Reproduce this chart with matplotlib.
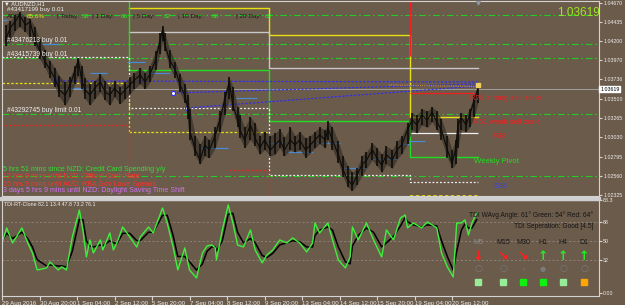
import matplotlib
matplotlib.use('Agg')
import matplotlib.pyplot as plt
from matplotlib.patches import Rectangle

plt.rcParams['font.family'] = ['Liberation Sans', 'DejaVu Sans']

W, H = 625, 305
BG = '#6b5b4b'
FRAME = '#d4d4d4'

# AUDNZD H1, x = bar number from the first bar on the chart
price_bars = [3, 7, 11, 15, 20, 24, 28, 32, 37, 41, 45, 49, 54, 58, 62, 65, 68, 71, 75, 79,
              84, 88, 92, 96, 101, 105, 109, 113, 118, 122, 126, 131, 135, 137, 139, 143, 148, 152, 156, 159,
              160, 165, 169, 173, 177, 182, 186, 190, 194, 197, 201, 203, 207, 212, 216, 220, 224, 229, 233, 237,
              241, 246, 250, 254, 259, 263, 267, 271, 276, 278, 282, 287, 291, 295, 299, 303, 307, 311, 316, 320,
              324, 328, 333, 337, 341, 346, 350, 354, 358, 363, 367, 371, 375, 380, 384, 387, 389, 392, 396, 399,
              403, 406]
price_close = [1.04218, 1.04365, 1.04438, 1.04523, 1.04401, 1.04438, 1.04218, 1.04096, 1.03949, 1.03852,
               1.03754, 1.03607, 1.03546, 1.03668, 1.03827, 1.03974, 1.03730, 1.03607, 1.03546, 1.03632,
               1.03705, 1.03583, 1.03546, 1.03632, 1.03546, 1.03607, 1.03668, 1.03730, 1.03791, 1.03705,
               1.03791, 1.03974, 1.04218, 1.04340, 1.04157, 1.03974, 1.03852, 1.03668, 1.03546, 1.03363,
               1.03119, 1.02875, 1.02752, 1.02936, 1.02875, 1.03058, 1.03241, 1.03485, 1.03705, 1.03424,
               1.03241, 1.03119, 1.02997, 1.03180, 1.03021, 1.02899, 1.02997, 1.02875, 1.02936, 1.02997,
               1.02875, 1.02997, 1.02936, 1.02997, 1.02875, 1.02936, 1.02997, 1.03058, 1.02997, 1.03143,
               1.02997, 1.02814, 1.02630, 1.02508, 1.02447, 1.02569, 1.02691, 1.02752, 1.02875, 1.02777,
               1.02691, 1.02814, 1.02752, 1.02875, 1.02936, 1.03119, 1.03241, 1.03180, 1.03302, 1.03241,
               1.03339, 1.03217, 1.03119, 1.02875, 1.02716, 1.02875, 1.03180, 1.03265, 1.03180, 1.03302,
               1.03485, 1.03619]
price_high = [1.04400, 1.04450, 1.04520, 1.04560, 1.04500, 1.04480, 1.04380, 1.04230, 1.04100, 1.03960,
              1.03880, 1.03780, 1.03700, 1.03760, 1.03900, 1.04000, 1.03900, 1.03750, 1.03680, 1.03720,
              1.03800, 1.03720, 1.03650, 1.03720, 1.03650, 1.03700, 1.03760, 1.03820, 1.03880, 1.03820,
              1.03900, 1.04080, 1.04300, 1.04390, 1.04300, 1.04100, 1.03950, 1.03800, 1.03680, 1.03550,
              1.03380, 1.03050, 1.02950, 1.03050, 1.03000, 1.03150, 1.03350, 1.03580, 1.03760, 1.03650,
              1.03400, 1.03300, 1.03150, 1.03280, 1.03200, 1.03050, 1.03100, 1.03050, 1.03080, 1.03130,
              1.03030, 1.03150, 1.03050, 1.03100, 1.03020, 1.03050, 1.03100, 1.03150, 1.03120, 1.03230,
              1.03150, 1.02980, 1.02800, 1.02680, 1.02600, 1.02650, 1.02800, 1.02850, 1.02960, 1.02900,
              1.02820, 1.02920, 1.02880, 1.02980, 1.03040, 1.03200, 1.03330, 1.03300, 1.03380, 1.03350,
              1.03400, 1.03350, 1.03250, 1.03050, 1.02880, 1.03000, 1.03250, 1.03330, 1.03300, 1.03380,
              1.03550, 1.03680]
price_low = [1.04150, 1.04200, 1.04330, 1.04380, 1.04320, 1.04250, 1.04150, 1.03990, 1.03870, 1.03750,
             1.03650, 1.03520, 1.03420, 1.03520, 1.03680, 1.03780, 1.03620, 1.03500, 1.03420, 1.03500,
             1.03580, 1.03480, 1.03420, 1.03520, 1.03440, 1.03500, 1.03560, 1.03620, 1.03680, 1.03620,
             1.03700, 1.03850, 1.04050, 1.04200, 1.04080, 1.03880, 1.03750, 1.03580, 1.03450, 1.03250,
             1.03000, 1.02800, 1.02700, 1.02800, 1.02780, 1.02900, 1.03100, 1.03300, 1.03500, 1.03350,
             1.03150, 1.03020, 1.02900, 1.03000, 1.02920, 1.02820, 1.02880, 1.02800, 1.02820, 1.02900,
             1.02800, 1.02880, 1.02850, 1.02880, 1.02780, 1.02840, 1.02900, 1.02950, 1.02900, 1.03000,
             1.02880, 1.02720, 1.02550, 1.02420, 1.02380, 1.02450, 1.02560, 1.02650, 1.02750, 1.02680,
             1.02600, 1.02700, 1.02650, 1.02760, 1.02830, 1.02950, 1.03120, 1.03080, 1.03180, 1.03150,
             1.03220, 1.03120, 1.03000, 1.02780, 1.02650, 1.02700, 1.02900, 1.03120, 1.03100, 1.03150,
             1.03280, 1.03450]

tdi_bars = [0, 4, 9, 17, 22, 26, 30, 38, 41, 48, 51, 55, 60, 66, 69, 72, 75, 78, 84, 86,
            92, 95, 98, 103, 109, 115, 118, 125, 129, 137, 141, 146, 150, 156, 160, 166, 171, 175, 179, 182,
            183, 188, 193, 197, 201, 206, 212, 216, 222, 226, 231, 237, 243, 248, 254, 260, 265, 267, 271, 278,
            282, 287, 293, 297, 299, 304, 311, 317, 324, 328, 334, 340, 344, 346, 351, 358, 363, 371, 375, 380,
            385, 388, 392, 395, 398, 401, 405]
tdi_green = [47.8, 62.1, 47.8, 62.1, 47.8, 38.3, 22.2, 24.1, 29.8, 22.2, 25.1, 22.2, 53.5, 79.1, 60.2, 34.5,
             50.7, 38.3, 50.7, 41.2, 57.3, 41.2, 47.8, 63.0, 53.5, 44.0, 53.5, 63.0, 57.3, 81.0, 66.8, 44.0,
             22.2, 43.1, 22.2, 14.6, 38.3, 45.0, 46.0, 43.1, 31.7, 60.2, 83.9, 66.8, 45.9, 44.0, 60.2, 41.2,
             28.9, 36.4, 41.2, 50.7, 47.8, 52.6, 47.8, 39.3, 47.8, 66.8, 57.3, 66.8, 50.7, 31.7, 24.1, 34.5,
             63.0, 50.7, 66.8, 50.7, 34.5, 60.2, 50.7, 71.6, 74.4, 62.1, 66.8, 62.1, 67.8, 62.1, 38.3, 25.1,
             15.5, 66.8, 66.8, 69.7, 55.4, 66.8, 76.3]
tdi_black = [50, 57, 52, 58, 52, 44, 32, 26, 27, 26, 26, 25, 40, 70, 70, 50, 45, 44, 46, 45,
             50, 48, 47, 57, 57, 50, 50, 58, 58, 74, 74, 55, 35, 35, 30, 22, 28, 40, 44, 44,
             40, 50, 75, 76, 58, 48, 52, 48, 36, 34, 38, 46, 48, 50, 49, 44, 44, 55, 60, 63,
             60, 44, 30, 28, 45, 55, 62, 58, 44, 48, 54, 64, 72, 68, 65, 63, 65, 64, 50, 35,
             22, 40, 60, 66, 62, 62, 70]

time_ticks = [0, 32, 64, 96, 128, 160, 192, 224, 256, 288, 320, 352, 384]
time_labels = ['29 Aug 2016', '30 Aug 20:00', '1 Sep 04:00', '2 Sep 12:00', '5 Sep 20:00',
               '7 Sep 04:00', '8 Sep 12:00', '9 Sep 20:00', '13 Sep 04:00', '14 Sep 12:00',
               '15 Sep 20:00', '19 Sep 04:00', '20 Sep 12:00']
price_ticks = [1.04670, 1.04435, 1.04200, 1.03970, 1.03736, 1.03500, 1.03265,
               1.03030, 1.02795, 1.02560, 1.02325]
tdi_ticks = [88.3, 68, 50, 32, 0]
tdi_tick_labels = ['88.3', '68', '50', '32', '0.00']

bid = 1.03619
order_levels = [1.04523, 1.04169, 1.03998, 1.03314, 1.02557]

# weekly range boxes: week start bars and the level of each line per week
week_edges = [108, 228, 348, 406]
yellow_levels = [1.04609, 1.04279, 1.03278, 1.03278]
grey_levels = [1.04316, 1.03876, 1.03876, 1.03876]
green_levels = [1.03852, 1.03229, 1.02789, 1.02789]
dotted_edges = [0, 108, 228, 348, 406]
white_dotted_levels = [1.04010, 1.03388, 1.02569, 1.02484, 1.02484]
r78 = 1.03571
r38 = 1.03082
week1_yellow = 1.03693
week1_red = 1.03180
week2_yellow = 1.03094
week2_red = 1.02630
week4_yellow = 1.02318

# trend lines (start bar, start price) -> (end bar, end price)
trend_start_bars = [46, 146, 158]
trend_start_prices = [1.03718, 1.03571, 1.03388]
trend_end_prices = [1.03705, 1.03681, 1.03656]

# short pivot segments
seg_start = [0, 32, 55, 75, 107, 124, 169, 200, 227, 244, 269, 291, 314, 340, 346]
seg_end = [4, 49, 73, 90, 122, 143, 193, 218, 241, 265, 288, 311, 337, 348, 361]
seg_price = [1.04462, 1.04169, 1.03632, 1.03815, 1.03949, 1.03815, 1.02899, 1.03510, 1.02960,
             1.02850, 1.02960, 1.02655, 1.02765, 1.02948, 1.02985]

tf_names = ['M5', 'M15', 'M30', 'H1', 'H4', 'D1']
tf_arrows = ['\u2193', '\u2198', '\u2198', '\u2191', '\u2191', '\u2191']
tf_state = ['weak', 'weak', 'strong', 'strong', 'weak', 'against']

news = ['5 hrs 51 mins since NZD: Credit Card Spending y/y',
        '12 hrs 9 mins until NZD: Official Cash Rate',
        '15 hrs 9 mins until AUD: RBA Gov Lowe Speaks',
        '3 days 5 hrs 9 mins until NZD: Daylight Saving Time Shift']
news_colors = ['#33dd33', '#ff3030', '#ff3030', '#d070f0']


fig = plt.figure(figsize=(W / 100, H / 100), dpi=100, facecolor=BG)


def box(x0, y0, x1, y1):
    return [x0 / W, 1 - y1 / H, (x1 - x0) / W, (y1 - y0) / H]


def put(x, y, s, **kw):
    kw.setdefault('va', 'center')
    kw.setdefault('ha', 'left')
    fig.text(x / W, 1 - y / H, s, **kw)


ax = fig.add_axes(box(2, 1, 599, 196), facecolor=BG)
ax2 = fig.add_axes(box(2, 200, 599, 296), facecolor=BG)
fig.patches.append(Rectangle((0, 1 - 199.5 / H), 600 / W, 3 / H, color='#cfcfcf',
                             transform=fig.transFigure, zorder=5))

# ---- price panel ----
ax.set_xlim(0, 509.4)
ax.set_ylim(1.02313, 1.04694)

for lv in order_levels:
    ax.axhline(lv, color='#22cc22', lw=0.8, ls=(0, (6, 2.5, 1.5, 2.5)), zorder=1)
ax.axhline(bid, color='#a0a0a0', lw=0.7, zorder=1)

ax.step(week_edges, yellow_levels, where='post', color='#e8e010', lw=1.0, zorder=2)
ax.step(week_edges, grey_levels, where='post', color='#c8c8c8', lw=1.0, zorder=2)
ax.step(week_edges, green_levels, where='post', color='#22dd22', lw=1.0, zorder=2)
ax.vlines(week_edges[0], green_levels[0], 1.04694, color='#22dd22', lw=1.0, zorder=2)
ax.vlines(week_edges[2], 1.04022, 1.04694, color='#ee2020', lw=1.0, zorder=2)
ax.step(dotted_edges, white_dotted_levels, where='post', color='#f0f0f0', lw=0.9, ls=(0, (1.5, 1.5)), zorder=2)
ax.hlines(r78, week_edges[2], week_edges[3], color='#ee2020', lw=0.9, zorder=2)
ax.hlines(r38, week_edges[2], week_edges[3], color='#f0f0f0', lw=0.9, zorder=2)
ax.hlines(week1_yellow, 0, week_edges[0], color='#e8e010', lw=0.9, ls=(0, (2, 1.5)), zorder=2)
ax.hlines(week2_yellow, week_edges[0], week_edges[1], color='#e8e010', lw=0.9, ls=(0, (2, 1.5)), zorder=2)
ax.vlines(week_edges[0], week2_yellow, 1.03485, color='#e8e010', lw=0.9, ls=(0, (2, 1.5)), zorder=2)
ax.hlines(week4_yellow, week_edges[2], week_edges[3], color='#e8e010', lw=1.2, ls=(0, (2, 1.5)), zorder=2)
ax.hlines(week1_red, 0, week_edges[0], color='#ee2020', lw=0.9, ls=(0, (1.5, 1.5)), zorder=2)
ax.vlines(week_edges[0], 1.02716, week1_red, color='#ee2020', lw=0.9, ls=(0, (1.5, 1.5)), zorder=2)
ax.hlines(week2_red, 194, week_edges[1], color='#ee2020', lw=0.9, ls=(0, (1.5, 1.5)), zorder=2)
ax.vlines(week_edges[1], 1.02313, week2_red, color='#ee2020', lw=0.9, ls=(0, (1.5, 1.5)), zorder=2)

ax.hlines(seg_price, seg_start, seg_end, color='#4a8ad0', lw=0.9, zorder=2)

for b0, p0, p1 in zip(trend_start_bars, trend_start_prices, trend_end_prices):
    ax.plot([b0, price_bars[-1]], [p0, p1], color='#2a2aff', lw=0.8, ls=(0, (2, 1.5)), zorder=3)
ax.plot([330, price_bars[-1]], [1.03668, 1.03650], color='#c89040', lw=0.8, ls=(0, (1, 1)), zorder=3)
ax.plot(trend_start_bars[0], trend_start_prices[0], 'o', ms=3, color='#2a2aff', zorder=4)
ax.plot(trend_start_bars[1:], trend_start_prices[1:], 'o', ms=3, mfc='white', mec='#2a2aff', mew=0.8, zorder=4)

# candles: high/low band, wicks and closes
ax.fill_between(price_bars, price_low, price_high, color='#2e2820', alpha=0.6, lw=0, zorder=4)
ax.vlines(price_bars, price_low, price_high, color='#14110d', lw=1.3, zorder=5)
ax.plot(price_bars, price_close, color='#0d0b08', lw=0.8, zorder=5)
ax.plot(price_bars[-1], price_close[-1] + 0.0005, 's', ms=2.5, color='#f0d060', zorder=6)
ax.plot(price_bars[-1], 1.04680, 'v', ms=3.5, color='#8898a8', zorder=6)

ax.yaxis.tick_right()
ax.set_yticks(price_ticks)
ax.set_yticklabels(['%.5f' % p for p in price_ticks])
ax.tick_params(axis='y', colors=FRAME, labelcolor='#eeeeee', labelsize=3.8, length=2, pad=1)
ax.set_xticks([])
for s in ax.spines.values():
    s.set_color(FRAME)
    s.set_linewidth(0.8)
ax.text(1.002, bid, '1.03619', transform=ax.get_yaxis_transform(), fontsize=3.8, color='black',
        va='center', ha='left', bbox=dict(boxstyle='square,pad=0.15', fc='white', ec='white'))

# ---- TDI panel ----
ax2.set_xlim(0, 509.4)
ax2.set_ylim(-2.5, 88.6)
for lv in [68, 50, 32]:
    ax2.axhline(lv, color='#9a9088', lw=0.5, ls=(0, (3, 3)))
ax2.plot(tdi_bars, tdi_black, color='#000000', lw=1.1)
ax2.plot(tdi_bars, tdi_green, color='#3cf03c', lw=1.0)
ax2.yaxis.tick_right()
ax2.set_yticks(tdi_ticks)
ax2.set_yticklabels(tdi_tick_labels)
ax2.tick_params(axis='y', colors=FRAME, labelcolor='#eeeeee', labelsize=3.8, length=2, pad=1)
ax2.set_xticks(time_ticks)
ax2.set_xticklabels(time_labels, ha='left')
ax2.tick_params(axis='x', colors=FRAME, labelcolor='#eeeeee', labelsize=4.4, length=3, pad=0.5)
for s in ax2.spines.values():
    s.set_color(FRAME)
    s.set_linewidth(0.8)

# ---- chart texts ----
put(4, 3.5, '\u25bc AUDNZD,H1', color='#f0f0f0', fontsize=4.2)
put(7, 9.5, '#43417199 buy 0.01', color='#f0f0f0', fontsize=4.5)
header = [(7, 'ADR:', '#1a1a1a'), (27, '85.6%', '#e0e020'), (57, '| Today:', '#1a1a1a'),
          (82, '58', '#22ee22'), (92, '| 1 Day:', '#1a1a1a'), (121, '66', '#22ee22'),
          (133, '| 5 Day:', '#1a1a1a'), (164, '62', '#22ee22'), (178, '| 10 Day:', '#1a1a1a'),
          (212, '68', '#22ee22'), (236, '| 20 Day:', '#1a1a1a'), (265, '62', '#22ee22')]
for x, s, c in header:
    put(x, 16.5, s, color=c, fontsize=4.6)
put(7, 41, '#43476213 buy 0.01', color='#f0f0f0', fontsize=4.8)
put(7, 55, '#43415739 buy 0.01', color='#f0f0f0', fontsize=4.8)
put(7, 111, '#43292745 buy limit 0.01', color='#f0f0f0', fontsize=4.8)
for i, (s, c) in enumerate(zip(news, news_colors)):
    put(3, 170 + 7 * i, s, color=c, fontsize=5.1)

put(557, 13, '1.03619', color='#9de820', fontsize=8.5)
put(470, 98, 'R78 strong sell zone', color='#ee2020', fontsize=5.6)
put(473, 123, 'R61 weak sell zone', color='#ee2020', fontsize=5.6)
put(492, 137, 'R38', color='#ee2020', fontsize=5.6)
put(474, 162, 'Weekly Pivot', color='#22dd22', fontsize=5.6)
put(494, 187, 'S38', color='#3344ff', fontsize=5.6)

put(4, 204, 'TDI-RT-Clone 82.1 13.4 47.8 73.2 76.1', color='#f0f0f0', fontsize=3.8)
put(593, 215, 'TDI WAvg Angle: 61\u00b0 Green: 54\u00b0 Red: 64\u00b0', color='#151515', fontsize=4.8, ha='right')
put(593, 226, 'TDI Seperation: Good [4.5]', color='#151515', fontsize=4.8, ha='right')

arrow_color = {'\u2193': '#ff2020', '\u2198': '#ff2020', '\u2191': '#22ee22'}
state_color = {'weak': '#98ec98', 'strong': '#10f010', 'against': '#ffa500'}
col_x = [478, 503, 523, 543, 563, 584]
for i, (name, arr, st) in enumerate(zip(tf_names, tf_arrows, tf_state)):
    x = col_x[i]
    put(x, 243, name, color='#8c8c8c' if i == 0 else '#151515', fontsize=5.0, ha='center')
    put(x, 256, arr, color=arrow_color[arr], fontsize=9, ha='center', fontweight='bold',
        family='DejaVu Sans')
    if i == 2:
        put(x, 269, '\u2022', color='#7a7a7a', fontsize=4, ha='center', family='DejaVu Sans')
    elif i == 3:
        put(x, 269, '\u25cf', color='#7a7a7a', fontsize=5, ha='center', family='DejaVu Sans')
    else:
        put(x, 269, '\u25cb', color='#7a7a7a', fontsize=6.5, ha='center', family='DejaVu Sans',
            fontweight='bold')
    fig.patches.append(Rectangle(((x - 3) / W, 1 - 285 / H), 6 / W, 6 / H, color=state_color[st],
                                 transform=fig.transFigure, zorder=6))

fig.savefig('out.png', dpi=100, facecolor=BG)
